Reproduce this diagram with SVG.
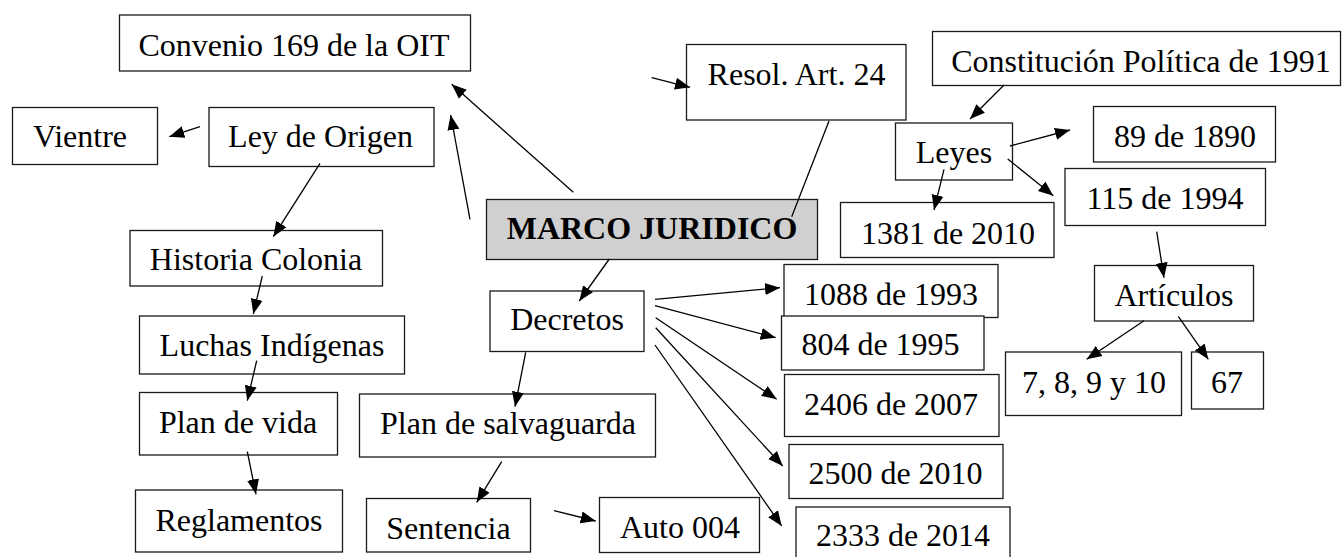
<svg xmlns="http://www.w3.org/2000/svg" width="1344" height="557" viewBox="0 0 1344 557">
<style>
.b{fill:#fff;stroke:#1a1a1a;stroke-width:1.3}
.m{fill:#d0d0d0;stroke:#1a1a1a;stroke-width:1.3}
text{font-family:"Liberation Serif","Times New Roman",serif;font-size:32px;fill:#000;text-anchor:middle}
.t{font-weight:bold}
.c line{stroke:#000;stroke-width:1.3}
.a{marker-end:url(#ah)}
</style>
<defs>
<marker id="ah" markerUnits="userSpaceOnUse" markerWidth="16" markerHeight="14" refX="15" refY="6" orient="auto" viewBox="0 0 16 12">
<path d="M0,0 L15,6 L0,12 Z" fill="#000"/>
</marker>
</defs>
<rect width="1344" height="557" fill="#fff"/>
<g id="n-convenio"><rect class="b" x="119.5" y="15" width="351" height="56"/><text x="294" y="56">Convenio 169 de la OIT</text></g>
<g id="n-vientre"><rect class="b" x="12.5" y="107.5" width="145" height="57"/><text x="80" y="147">Vientre</text></g>
<g id="n-ley"><rect class="b" x="209" y="107.5" width="225" height="59"/><text x="320.5" y="147">Ley de Origen</text></g>
<g id="n-resol"><rect class="b" x="686.5" y="44.5" width="219.5" height="75.5"/><text x="796.5" y="85">Resol. Art. 24</text></g>
<g id="n-const"><rect class="b" x="932.5" y="31.5" width="408" height="54"/><text x="1141" y="71.5">Constitución Política de 1991</text></g>
<g id="n-leyes"><rect class="b" x="895.5" y="123" width="117" height="57"/><text x="954" y="163">Leyes</text></g>
<g id="n-89"><rect class="b" x="1093.5" y="106.5" width="182" height="55.5"/><text x="1185" y="147">89 de 1890</text></g>
<g id="n-115"><rect class="b" x="1065" y="168.5" width="200.5" height="57"/><text x="1165" y="208.5">115 de 1994</text></g>
<g id="n-1381"><rect class="b" x="840.5" y="202.5" width="213.5" height="55"/><text x="948" y="243.5">1381 de 2010</text></g>
<g id="n-marco"><rect class="m" x="486.5" y="199.5" width="331" height="60"/><text class="t" x="652" y="239">MARCO JURIDICO</text></g>
<g id="n-decretos"><rect class="b" x="490" y="291" width="154" height="60.5"/><text x="567" y="330">Decretos</text></g>
<g id="n-historia"><rect class="b" x="130" y="230.5" width="252.5" height="55.5"/><text x="256" y="270">Historia Colonia</text></g>
<g id="n-luchas"><rect class="b" x="139.5" y="316" width="265" height="58"/><text x="272" y="355.5">Luchas Indígenas</text></g>
<g id="n-planvida"><rect class="b" x="139.5" y="392.5" width="198" height="62.5"/><text x="238" y="432.5">Plan de vida</text></g>
<g id="n-reglamentos"><rect class="b" x="135.5" y="490" width="207" height="62"/><text x="239" y="530.5">Reglamentos</text></g>
<g id="n-plansalv"><rect class="b" x="359.5" y="394" width="296" height="63"/><text x="508" y="433.5">Plan de salvaguarda</text></g>
<g id="n-sentencia"><rect class="b" x="366.5" y="498.5" width="164" height="53.5"/><text x="448.5" y="538.5">Sentencia</text></g>
<g id="n-auto"><rect class="b" x="599.5" y="497.5" width="160" height="55"/><text x="680" y="538">Auto 004</text></g>
<g id="n-1088"><rect class="b" x="784" y="264.5" width="214" height="53"/><text x="891" y="304.5">1088 de 1993</text></g>
<g id="n-804"><rect class="b" x="781.5" y="316" width="202.5" height="54"/><text x="880.5" y="355">804 de 1995</text></g>
<g id="n-2406"><rect class="b" x="784.5" y="374.5" width="214.5" height="62"/><text x="891" y="415">2406 de 2007</text></g>
<g id="n-2500"><rect class="b" x="789" y="444.5" width="214" height="54"/><text x="895.5" y="483.5">2500 de 2010</text></g>
<g id="n-2333"><rect class="b" x="796" y="507" width="214" height="60"/><text x="903" y="546">2333 de 2014</text></g>
<g id="n-articulos"><rect class="b" x="1094.5" y="265.5" width="159" height="55.5"/><text x="1174" y="306">Artículos</text></g>
<g id="n-7"><rect class="b" x="1005.5" y="352" width="176" height="63.5"/><text x="1094" y="392.5">7, 8, 9 y 10</text></g>
<g id="n-67"><rect class="b" x="1191.5" y="352" width="72" height="57"/><text x="1227" y="392.5">67</text></g>
<g id="connectors" class="c">
<line class="a" x1="200" y1="126.7" x2="169.3" y2="136.7"/>
<line class="a" x1="573.3" y1="192.3" x2="451.7" y2="84.3"/>
<line class="a" x1="470" y1="219.3" x2="450.7" y2="115"/>
<line class="a" x1="320" y1="163.3" x2="273.3" y2="236.7"/>
<line class="a" x1="651.7" y1="77.7" x2="690" y2="87.3"/>
<line x1="829" y1="121" x2="791.7" y2="216.7"/>
<line class="a" x1="1004" y1="85" x2="970" y2="119"/>
<line class="a" x1="1010" y1="146" x2="1070" y2="130"/>
<line class="a" x1="1007.7" y1="159" x2="1053.3" y2="195.7"/>
<line class="a" x1="944" y1="169.3" x2="934" y2="210"/>
<line class="a" x1="1156.7" y1="231.7" x2="1164" y2="277.7"/>
<line class="a" x1="1144" y1="320.7" x2="1086.7" y2="359.3"/>
<line class="a" x1="1178.3" y1="316.3" x2="1208.3" y2="359.3"/>
<line class="a" x1="609.3" y1="259" x2="579.3" y2="301"/>
<line class="a" x1="525.7" y1="352.3" x2="515" y2="406.7"/>
<line class="a" x1="501.7" y1="461.7" x2="476.7" y2="502.3"/>
<line class="a" x1="554" y1="510.7" x2="595.7" y2="521"/>
<line class="a" x1="655" y1="299.3" x2="780" y2="287.7"/>
<line class="a" x1="655" y1="305.7" x2="775.7" y2="337.7"/>
<line class="a" x1="655.7" y1="317.7" x2="776.7" y2="399.3"/>
<line class="a" x1="655.7" y1="327.7" x2="782.7" y2="466"/>
<line class="a" x1="655" y1="345" x2="781.7" y2="526"/>
<line class="a" x1="262.3" y1="276" x2="253.3" y2="314"/>
<line class="a" x1="256.7" y1="360.7" x2="247.3" y2="400.7"/>
<line class="a" x1="247.3" y1="451.7" x2="256" y2="494.3"/>
</g>
</svg>
